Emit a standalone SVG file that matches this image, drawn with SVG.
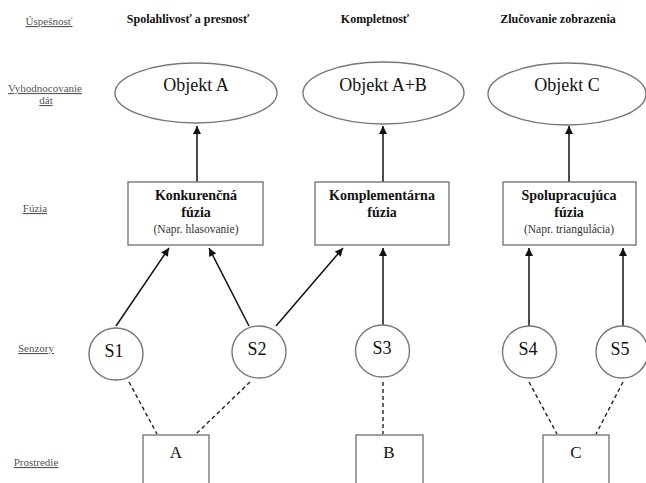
<svg xmlns="http://www.w3.org/2000/svg" width="646" height="483" viewBox="0 0 646 483" font-family="'Liberation Serif','Times New Roman','DejaVu Serif',serif">
<style>
text{font-family:'Liberation Serif','Times New Roman','DejaVu Serif',serif;fill:#111}
.lbl{font-size:11px;fill:#555;text-decoration:underline;text-anchor:middle}
.hdr{font-size:12px;font-weight:bold;text-anchor:middle}
.obj{font-size:18px;text-anchor:middle}
.bt{font-size:14px;font-weight:bold;text-anchor:middle}
.sm{font-size:11.5px;text-anchor:middle;fill:#333}
.sn{font-size:18px;text-anchor:middle}
.env{font-size:17px;text-anchor:middle}
.shape{fill:#fff;stroke:#777;stroke-width:1.4}
.arr{stroke:#111;stroke-width:1.5;fill:none;marker-end:url(#ah)}
.dash{stroke:#222;stroke-width:1.4;stroke-dasharray:4,3;fill:none}
</style>
<defs>
<marker id="ah" viewBox="0 0 10 10" refX="10" refY="5" markerWidth="10" markerHeight="8" markerUnits="userSpaceOnUse" orient="auto">
<path d="M0,0 L10,5 L0,10 z" fill="#111"/>
</marker>
</defs>
<rect width="646" height="483" fill="#fff"/>
<g id="labels">
<text class="lbl" x="49" y="25">Úspešnosť</text>
<text class="lbl" x="45" y="92">Vyhodnocovanie</text>
<text class="lbl" x="46" y="104">dát</text>
<text class="lbl" x="35" y="212">Fúzia</text>
<text class="lbl" x="36" y="352">Senzory</text>
<text class="lbl" x="36" y="466">Prostredie</text>
</g>
<g id="headers">
<text class="hdr" x="188" y="23">Spolahlivosť a presnosť</text>
<text class="hdr" x="375" y="23">Kompletnosť</text>
<text class="hdr" x="558" y="23">Zlučovanie zobrazenia</text>
</g>
<g id="connectors">
<line class="arr" x1="197" y1="182" x2="197" y2="126"/>
<line class="arr" x1="383" y1="182" x2="383" y2="126"/>
<line class="arr" x1="569" y1="182" x2="569" y2="126"/>
<line class="arr" x1="116" y1="326" x2="169" y2="248"/>
<line class="arr" x1="249" y1="326" x2="209" y2="248"/>
<line class="arr" x1="276" y1="326" x2="343" y2="248"/>
<line class="arr" x1="383" y1="325" x2="383" y2="248"/>
<line class="arr" x1="529" y1="326" x2="529" y2="248"/>
<line class="arr" x1="623" y1="326" x2="623" y2="248"/>
<line class="dash" x1="129" y1="382" x2="157" y2="434"/>
<line class="dash" x1="250" y1="382" x2="196" y2="434"/>
<line class="dash" x1="383" y1="382" x2="383" y2="434"/>
<line class="dash" x1="529" y1="382" x2="557" y2="434"/>
<line class="dash" x1="623" y1="382" x2="596" y2="434"/>
</g>
<g id="objA"><ellipse class="shape" cx="196" cy="93" rx="81" ry="30"/><text class="obj" x="196" y="91">Objekt A</text></g>
<g id="objAB"><ellipse class="shape" cx="383.5" cy="93" rx="80.5" ry="31"/><text class="obj" x="383" y="91">Objekt A+B</text></g>
<g id="objC"><ellipse class="shape" cx="567" cy="94" rx="79" ry="31"/><text class="obj" x="567" y="91">Objekt C</text></g>
<g id="fuz1"><rect class="shape" x="128" y="182" width="135" height="63"/>
<text class="bt" x="196" y="200">Konkurenčná</text><text class="bt" x="196" y="217">fúzia</text><text class="sm" x="196" y="233">(Napr. hlasovanie)</text></g>
<g id="fuz2"><rect class="shape" x="315" y="182" width="134" height="63"/>
<text class="bt" x="382" y="200">Komplementárna</text><text class="bt" x="382" y="217">fúzia</text></g>
<g id="fuz3"><rect class="shape" x="503" y="182" width="133" height="63"/>
<text class="bt" x="569" y="200">Spolupracujúca</text><text class="bt" x="569" y="217">fúzia</text><text class="sm" x="569" y="233">(Napr. triangulácia)</text></g>
<g id="s1"><ellipse class="shape" cx="116" cy="354" rx="27" ry="26"/><text class="sn" x="114" y="357">S1</text></g>
<g id="s2"><ellipse class="shape" cx="259" cy="352" rx="27" ry="26"/><text class="sn" x="257" y="355">S2</text></g>
<g id="s3"><ellipse class="shape" cx="382.5" cy="351" rx="27" ry="26"/><text class="sn" x="382" y="354">S3</text></g>
<g id="s4"><ellipse class="shape" cx="529.5" cy="352" rx="27" ry="26"/><text class="sn" x="528" y="355">S4</text></g>
<g id="s5"><ellipse class="shape" cx="622" cy="352" rx="26" ry="26"/><text class="sn" x="620" y="355">S5</text></g>
<g id="envA"><rect class="shape" x="143" y="435" width="66" height="60"/><text class="env" x="176" y="458">A</text></g>
<g id="envB"><rect class="shape" x="356" y="435" width="67" height="60"/><text class="env" x="389" y="458">B</text></g>
<g id="envC"><rect class="shape" x="543" y="435" width="66" height="60"/><text class="env" x="576" y="458">C</text></g>
</svg>
